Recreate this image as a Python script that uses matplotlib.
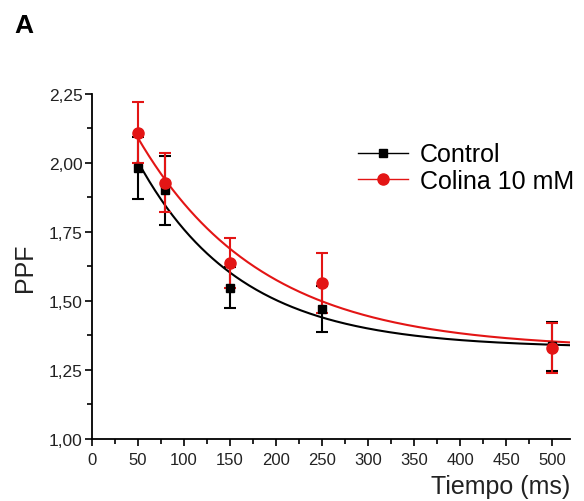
import numpy as np
import matplotlib
matplotlib.use("Agg")
import matplotlib.pyplot as plt
from matplotlib.lines import Line2D
from matplotlib.ticker import MultipleLocator, FuncFormatter

plt.rcParams['font.family'] = ['Liberation Sans', 'DejaVu Sans']

# datos
tiempo = np.array([50, 80, 150, 250, 500])
control = np.array([1.98, 1.90, 1.547, 1.471, 1.335])
control_err = np.array([0.112, 0.126, 0.074, 0.082, 0.09])
colina = np.array([2.108, 1.928, 1.638, 1.565, 1.329])
colina_err = np.array([0.11, 0.108, 0.09, 0.108, 0.09])


def ajuste_exp(x, y):
    # y = y0 + A*exp(-x/tau), busqueda de tau + minimos cuadrados
    mejor = None
    for tau in np.linspace(10, 600, 3000):
        M = np.column_stack([np.ones_like(x, dtype=float), np.exp(-x / tau)])
        coef, *_ = np.linalg.lstsq(M, y, rcond=None)
        res = np.sum((M @ coef - y) ** 2)
        if mejor is None or res < mejor[0]:
            mejor = (res, coef, tau)
    return mejor[1], mejor[2]


fig = plt.figure(figsize=(5.84, 5.02), dpi=100)
ax = fig.add_axes([0.157, 0.1235, 0.819, 0.688])

xs = np.linspace(50, 519, 300)
for y, err, color, marker, ms in [(control, control_err, 'black', 's', 6),
                                  (colina, colina_err, '#e31515', 'o', 8)]:
    (y0, A), tau = ajuste_exp(tiempo, y)
    ax.plot(xs, y0 + A * np.exp(-xs / tau), color=color, lw=1.5)
    ax.errorbar(tiempo, y, yerr=err, fmt=marker, color=color, ms=ms,
                capsize=4, elinewidth=1.5, capthick=1.5)

ax.set_xlim(0, 519)
ax.set_ylim(1.0, 2.25)
ax.xaxis.set_major_locator(MultipleLocator(50))
ax.xaxis.set_minor_locator(MultipleLocator(25))
ax.yaxis.set_major_locator(MultipleLocator(0.25))
ax.yaxis.set_minor_locator(MultipleLocator(0.125))
ax.yaxis.set_major_formatter(FuncFormatter(lambda v, p: f"{v:.2f}".replace('.', ',')))
ax.tick_params(which='major', length=5, width=1.2,
               color='black', labelcolor='#222222')
ax.tick_params(which='minor', length=3.5, width=1.2)
ax.tick_params(axis='x', pad=4, labelsize=12)
ax.tick_params(axis='y', pad=1.5, labelsize=12.5)
for s in ['top', 'right']:
    ax.spines[s].set_visible(False)
for s in ['left', 'bottom']:
    ax.spines[s].set_linewidth(1.3)

ax.set_ylabel('PPF', fontsize=18, color='#222222')
ax.yaxis.set_label_coords(-0.115, 0.5)
ax.set_xlabel('Tiempo (ms)', fontsize=18, color='#222222')
ax.xaxis.set_label_coords(1.0, -0.1)
ax.xaxis.label.set_horizontalalignment('right')

handles = [Line2D([], [], color='black', marker='s', ms=6, lw=1),
           Line2D([], [], color='#e31515', marker='o', ms=8, lw=1)]
ax.legend(handles, ['Control', 'Colina 10 mM'], loc='upper left',
          bbox_to_anchor=(0.53, 0.895), frameon=False, fontsize=18,
          handlelength=2.0, handletextpad=0.5, labelspacing=0.1, borderpad=0)

fig.text(0.025, 0.935, 'A', fontsize=19, fontweight='bold')

fig.savefig('out.png', dpi=100)
